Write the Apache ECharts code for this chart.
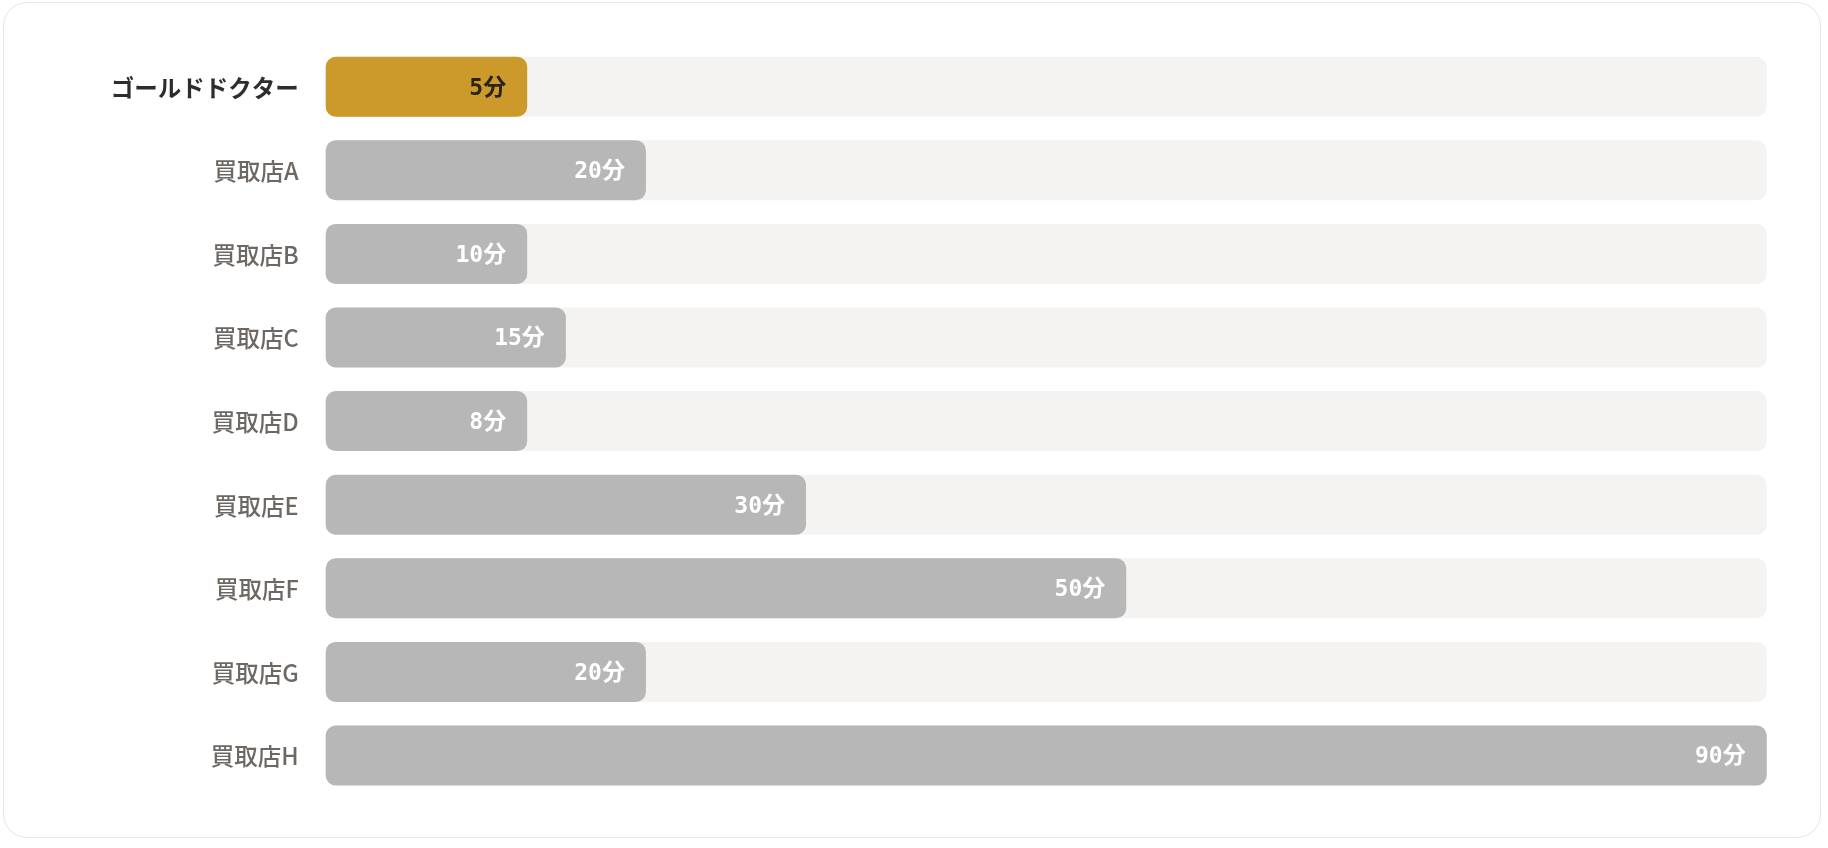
<!DOCTYPE html>
<html>
<head>
<meta charset="utf-8">
<script src="https://cdn.jsdelivr.net/npm/echarts@6/dist/echarts.min.js"></script>
<style>
    html, body { margin: 0; padding: 0; background: #fff; }
    #card {
        position: absolute; left: 3px; top: 2px;
        width: 1816px; height: 834px;
        border: 1.5px solid #e6e6e6; border-radius: 24px;
    }
    #chart-container { position: absolute; left: 0; top: 0; width: 1828px; height: 848px; }
</style>
</head>
<body>
<div id="card"></div>
<div id="chart-container"></div>
<script>
var shops = ['ゴールドドクター', '買取店A', '買取店B', '買取店C', '買取店D', '買取店E', '買取店F', '買取店G', '買取店H'];
var minutes = [5, 20, 10, 15, 8, 30, 50, 20, 90];
var UNIT = '分';
var MAX_MIN = 90;

var COLOR_MAIN = '#cc9a2b';
var COLOR_OTHER = '#b7b7b7';

var myChart = echarts.init(document.getElementById('chart-container'));

var data_bars = [];
minutes.forEach(function (v, i) {
    var first = i === 0;
    data_bars.push({
        value: v,
        itemStyle: { color: first ? COLOR_MAIN : COLOR_OTHER },
        label: { color: first ? '#2b2316' : '#ffffff' }
    });
});

var option = {
    animation: false,
    grid: {
        left: 325.7,
        top: 44.9,
        width: 1441,
        height: 752.4
    },
    xAxis: {
        type: 'value',
        min: 0,
        max: MAX_MIN,
        show: false
    },
    yAxis: {
        type: 'category',
        inverse: true,
        data: shops,
        axisLine: { show: false },
        axisTick: { show: false },
        splitLine: { show: false },
        axisLabel: {
            margin: 27,
            formatter: function (value, index) {
                return index === 0 ? '{a|' + value + '}' : '{b|' + value + '}';
            },
            rich: {
                a: {
                    fontFamily: 'Noto Sans CJK JP',
                    fontSize: 23.5,
                    fontWeight: 600,
                    color: '#2d2d2d',
                    padding: [2, 0, 0, 0]
                },
                b: {
                    fontFamily: 'Noto Sans CJK JP',
                    fontSize: 23.5,
                    fontWeight: 500,
                    color: '#6d6864',
                    padding: [2, 0, 0, 0]
                }
            }
        }
    },
    series: [
        {
            type: 'bar',
            data: data_bars,
            barWidth: 60,
            barMinHeight: 201.5,
            showBackground: true,
            backgroundStyle: {
                color: '#f4f3f1',
                borderRadius: 10
            },
            itemStyle: {
                borderRadius: 10
            },
            label: {
                show: true,
                position: 'insideRight',
                distance: 21,
                offset: [0, 2],
                formatter: '{c}' + UNIT,
                fontFamily: "'DejaVu Sans Mono', 'Noto Sans CJK JP'",
                fontSize: 23,
                fontWeight: 'bold'
            }
        }
    ]
};
myChart.setOption(option);
</script>
</body>
</html>
